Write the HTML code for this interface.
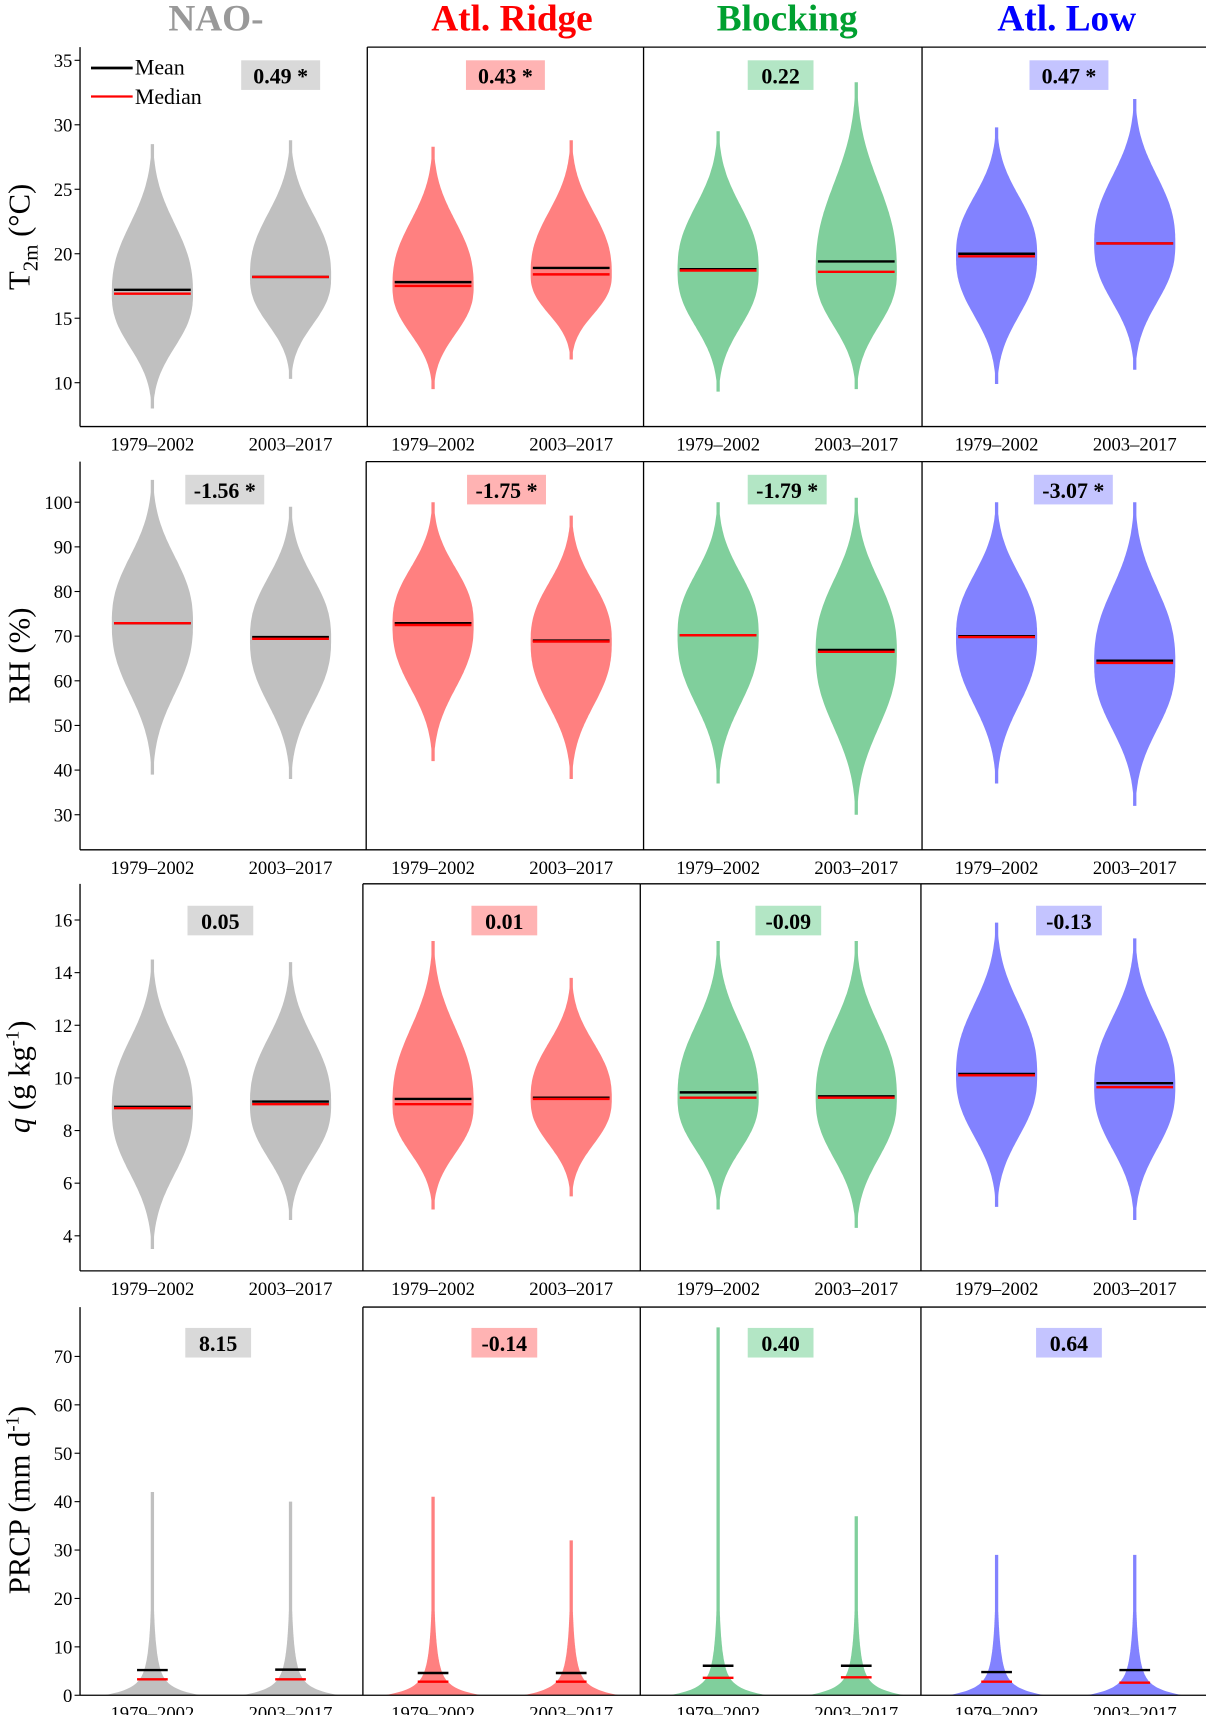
<!DOCTYPE html>
<html><head><meta charset="utf-8">
<style>
html,body{margin:0;padding:0;background:#fff;}
svg{display:block;font-family:"Liberation Serif",serif;}
</style></head>
<body>
<svg id="fig" width="1206" height="1715" viewBox="0 0 1100 1564" preserveAspectRatio="none" xmlns="http://www.w3.org/2000/svg"></svg>
<script>
// ---- data ----
const regimes = ["NAO-","Atl. Ridge","Blocking","Atl. Low"];
const periods = ["1979\u20132002","2003\u20132017"];
const variables = ["T2m","RH","q","PRCP"];
const t2mMin=[8,10.3,9.5,11.8,9.3,9.5,9.9,11];
const t2mMax=[28.5,28.8,28.3,28.8,29.5,33.3,29.8,32];
const t2mMean=[17.2,18.2,17.8,18.9,18.8,19.4,20.0,20.8];
const t2mMedian=[16.9,18.2,17.5,18.4,18.7,18.6,19.8,20.8];
const rhMin=[39,38,42,38,37,30,37,32];
const rhMax=[105,99,100,97,100,101,100,100];
const rhMean=[72.9,69.8,72.9,69.0,70.2,66.9,70.0,64.5];
const rhMedian=[72.9,69.4,72.5,68.8,70.2,66.5,69.8,64.0];
const qMin=[3.5,4.6,5.0,5.5,5.0,4.3,5.1,4.6];
const qMax=[14.5,14.4,15.2,13.8,15.2,15.2,15.9,15.3];
const qMean=[8.9,9.1,9.2,9.25,9.45,9.3,10.15,9.8];
const qMedian=[8.85,9.0,9.0,9.2,9.25,9.25,10.1,9.65];
const prMin=[0,0,0,0,0,0,0,0];
const prMax=[42,40,41,32,76,37,29,29];
const prMean=[5.2,5.3,4.6,4.6,6.1,6.1,4.8,5.2];
const prMedian=[3.3,3.3,2.8,2.8,3.6,3.7,2.8,2.6];
const statLabels=[["0.49 *","0.43 *","0.22","0.47 *"],["-1.56 *","-1.75 *","-1.79 *","-3.07 *"],["0.05","0.01","-0.09","-0.13"],["8.15","-0.14","0.40","0.64"]];
const yTicksT=[10,15,20,25,30,35];
const yTicksRH=[30,40,50,60,70,80,90,100];
const yTicksQ=[4,6,8,10,12,14,16];
const yTicksP=[0,10,20,30,40,50,60,70];

// ---- layout ----
const NS="http://www.w3.org/2000/svg";
const svg=document.getElementById('fig');
function mk(tag,attrs,parent){const e=document.createElementNS(NS,tag);for(const k in attrs)e.setAttribute(k,attrs[k]);(parent||svg).appendChild(e);return e;}
const fill=["#c0c0c0","#ff8080","#80cf9c","#8282ff"];
const boxBg=["#d9d9d9","#ffb3b3","#b3e6c5","#c4c4ff"];
const titleCol=["#999999","#ff0000","#00a030","#0000ff"];
const colEdges=[[73,335,587,841,1101],[73,334,587,841,1101],[73,331,584,840,1101],[73,331,584,840,1101]];
const centers=[139,265,395,521,655,781,909,1035];
const rows=[
 {top:43,bot:389,v0:35,p0:55,v1:10,p1:349,ticks:yTicksT,mn:t2mMin,mx:t2mMax,me:t2mMean,md:t2mMedian,statY:68,statX:[256,461,712,975]},
 {top:421,bot:775,v0:100,p0:458,v1:30,p1:743,ticks:yTicksRH,mn:rhMin,mx:rhMax,me:rhMean,md:rhMedian,statY:446,statX:[205,462,718,979]},
 {top:806,bot:1159,v0:16,p0:839,v1:4,p1:1127,ticks:yTicksQ,mn:qMin,mx:qMax,me:qMean,md:qMedian,statY:839,statX:[201,460,719,975]},
 {top:1192,bot:1546,v0:70,p0:1237,v1:0,p1:1546,ticks:yTicksP,mn:prMin,mx:prMax,me:prMean,md:prMedian,statY:1224,statX:[199,460,712,975]}
];

regimes.forEach((r,i)=>{
 const t=mk('text',{x:[197,467,718,973][i],y:28,'text-anchor':'middle','font-size':34,'font-weight':'bold',fill:titleCol[i]});
 t.textContent=r;
 
 
});

rows.forEach((R,ri)=>{
 const g=mk('g',{});
 
 
 const y=v=>R.p0+(v-R.v0)*(R.p1-R.p0)/(R.v1-R.v0);
 const E=colEdges[ri];
 for(let k=0;k<8;k++){
  const cx=centers[k], col=Math.floor(k/2);
  const right=[];
  if(ri<3){
   const mode=R.md[k], lo=R.mn[k], hi=R.mx[k];
   const su=(hi-mode)/2.3, sd=(mode-lo)/2.3, W=37;
   const steps=120;
   for(let s=0;s<=steps;s++){
    const v=lo+(hi-lo)*s/steps;
    const d=v>=mode?(v-mode)/su:(mode-v)/sd;
    const w=Math.max(1.5,W*Math.exp(-0.5*Math.pow(d,2.5)));
    right.push([cx+w,y(v)]);
   }
  } else {
   const hi=R.mx[k]; const steps=200;
   for(let s=0;s<=steps;s++){
    const v=hi*s/steps;
    let w=28*Math.exp(-v/1.3)+12*Math.exp(-v/5)+4*Math.exp(-v/14);
    if(v>hi*0.7) w=Math.min(w,2);
    w=Math.max(w,1.5);
    right.push([cx+w,y(v)]);
   }
  }
  const pts=right.concat(right.slice().reverse().map(p=>[2*cx-p[0],p[1]]));
  const p=mk('polygon',{points:pts.map(p=>p[0].toFixed(1)+','+p[1].toFixed(1)).join(' '),fill:fill[col]},g);
  
  
  const half=ri<3?35:14;
  const lm=mk('line',{x1:cx-half,x2:cx+half,y1:y(R.me[k]),y2:y(R.me[k]),stroke:'#000','stroke-width':2.2},g);
  
  
  const ld=mk('line',{x1:cx-half,x2:cx+half,y1:y(R.md[k]),y2:y(R.md[k]),stroke:'#ff0000','stroke-width':2.2},g);
  
  
 }
 mk('line',{x1:E[0],x2:E[0],y1:R.top,y2:R.bot,stroke:'#000','stroke-width':1.2},g);
 mk('line',{x1:E[0],x2:E[4],y1:R.bot,y2:R.bot,stroke:'#000','stroke-width':1.2},g);
 for(let c=1;c<5;c++){
  mk('line',{x1:E[c],x2:E[c],y1:R.top,y2:R.bot,stroke:'#000','stroke-width':1.2},g);
  if(c>1) mk('line',{x1:E[c-1],x2:E[c],y1:R.top,y2:R.top,stroke:'#000','stroke-width':1.2},g);
 }
 R.ticks.forEach(t=>{
  mk('line',{x1:E[0]-5,x2:E[0],y1:y(t),y2:y(t),stroke:'#000','stroke-width':1},g);
  const tx=mk('text',{x:E[0]-7,y:y(t)+6,'text-anchor':'end','font-size':17},g);
  tx.textContent=t;
  
  
 });
 for(let k=0;k<8;k++){
  const tx=mk('text',{x:centers[k],y:R.bot+22,'text-anchor':'middle','font-size':17},g);
  tx.textContent=periods[k%2];
  
  
 }
 for(let c=0;c<4;c++){
  const w=statLabels[ri][c].length>5?72:60;
  const r=mk('rect',{x:R.statX[c]-w/2,y:R.statY-13,width:w,height:27,fill:boxBg[c]},g);
  
  
  const tx=mk('text',{x:R.statX[c],y:R.statY+8,'text-anchor':'middle','font-size':20,'font-weight':'bold'},g);
  tx.textContent=statLabels[ri][c];
  
  
 }
});

const yTitles=[
 {y:216,html:'T<tspan font-size="19" dy="7">2m</tspan><tspan dy="-7"> (°C)</tspan>'},
 {y:598,html:'RH (%)'},
 {y:982,html:'<tspan font-style="italic">q</tspan> (g kg<tspan font-size="17" dy="-10">-1</tspan><tspan dy="10">)</tspan>'},
 {y:1368,html:'PRCP (mm d<tspan font-size="17" dy="-10">-1</tspan><tspan dy="10">)</tspan>'}
];
yTitles.forEach((t,i)=>{
 const e=mk('text',{x:0,y:0,'text-anchor':'middle','font-size':28,transform:`translate(27,${t.y}) rotate(-90)`});
 e.innerHTML=t.html;
 
 
});

const lg=mk('g',{});


mk('line',{x1:83,x2:121,y1:62,y2:62,stroke:'#000','stroke-width':2.5},lg);
mk('line',{x1:83,x2:121,y1:88,y2:88,stroke:'#ff0000','stroke-width':2},lg);
const l1=mk('text',{x:123,y:68,'font-size':20},lg);l1.textContent='Mean';


const l2=mk('text',{x:123,y:95,'font-size':20},lg);l2.textContent='Median';


</script>
</body></html>
